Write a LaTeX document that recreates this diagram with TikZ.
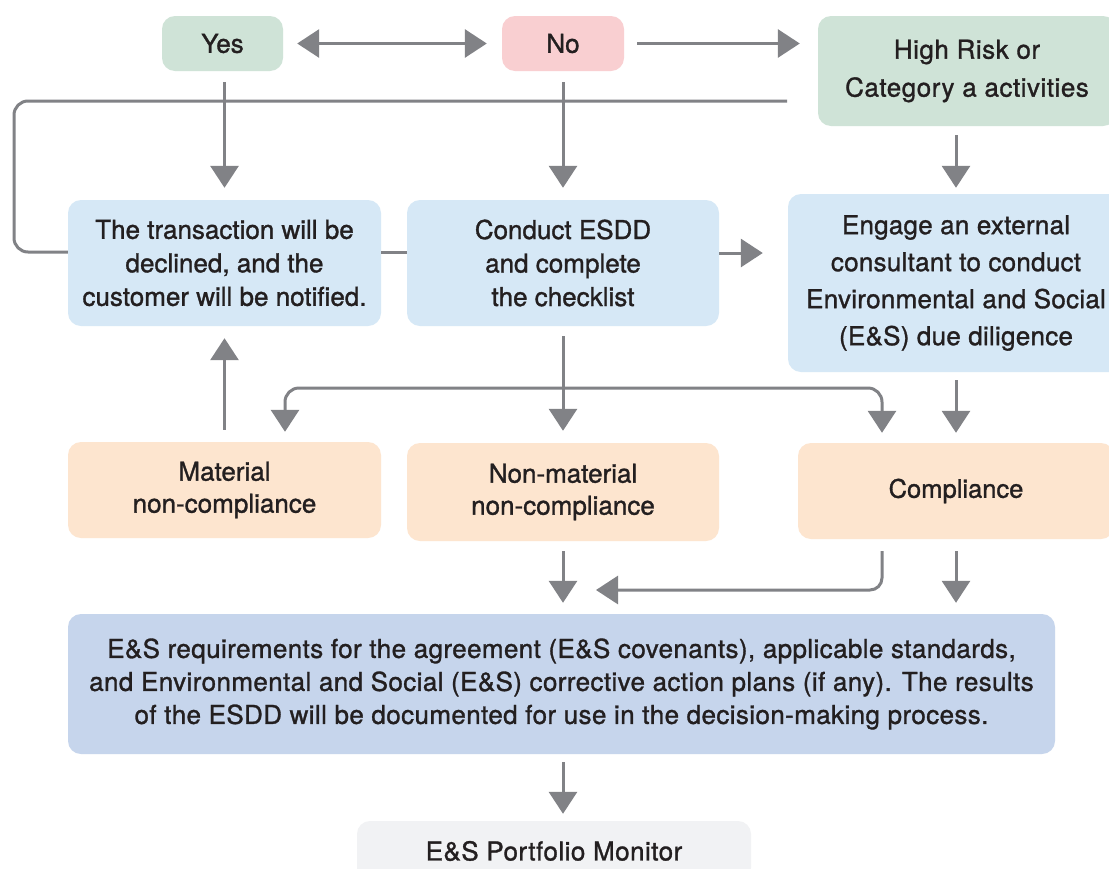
\documentclass[tikz,border=0pt]{standalone}
\usepackage{fontspec}
\setmainfont{TeX Gyre Heros}
\newfontfamily\boxfont{TeX Gyre Heros}[FakeBold=1.2]
\usetikzlibrary{arrows.meta}
\definecolor{boxgreen}{HTML}{CFE3D7}
\definecolor{boxpink}{HTML}{F9CFD1}
\definecolor{boxblue}{HTML}{D6E8F6}
\definecolor{boxorange}{HTML}{FDE5CF}
\definecolor{bigblue}{HTML}{C6D5EC}
\definecolor{portgray}{HTML}{F1F2F4}
\definecolor{arrc}{HTML}{818286}
\definecolor{txt}{HTML}{231F20}
\begin{document}
\begin{tikzpicture}[x=1pt,y=-1pt,
  box/.style={rounded corners=13pt, align=center, inner sep=0pt, text=txt,
    font=\boxfont\fontsize{26}{33.5}\selectfont},
  ln/.style={draw=arrc, line width=3pt},
  arr/.style={draw=arrc, line width=3pt, -{Triangle[width=28pt,length=22pt]}},
  darr/.style={draw=arrc, line width=3pt, {Triangle[width=28pt,length=22pt]}-{Triangle[width=28pt,length=22pt]}}
]
\useasboundingbox (0,0) rectangle (1109,868);
\fill[white] (0,0) rectangle (1109,868);

% nodes
\node[box, fill=boxgreen, minimum width=121pt, minimum height=55pt] (yes) at (222.5,43.5) {Yes};
\node[box, fill=boxpink, minimum width=122pt, minimum height=55pt] (no) at (563,43.5) {No};
\node[box, fill=boxgreen, minimum width=298pt, minimum height=110pt,
  font=\boxfont\fontsize{26}{38}\selectfont\addfontfeature{LetterSpace=2}] (high) at (967,71) {High Risk or\\Category a activities};
\node[box, fill=boxblue, minimum width=313pt, minimum height=126pt] (trans) at (224.5,263)
  {The transaction will be\\declined, and the\\customer will be notified.};
\node[box, fill=boxblue, minimum width=312pt, minimum height=126pt] (conduct) at (563,263)
  {Conduct ESDD\\and complete\\the checklist};
\node[box, fill=boxblue, minimum width=336pt, minimum height=178pt,
  font=\boxfont\fontsize{26}{37}\selectfont\addfontfeature{LetterSpace=1}] (engage) at (956,283)
  {Engage an external\\consultant to conduct\\Environmental and Social\\(E\&S) due diligence};
\node[box, fill=boxorange, minimum width=313pt, minimum height=96pt,
  font=\boxfont\fontsize{26}{32}\selectfont] (mat) at (224.5,490) {Material\\non-compliance};
\node[box, fill=boxorange, minimum width=312pt, minimum height=98pt,
  font=\boxfont\fontsize{26}{32}\selectfont] (nonmat) at (563,492) {Non-material\\non-compliance};
\node[box, fill=boxorange, minimum width=316pt, minimum height=96pt,
  font=\boxfont\fontsize{25.5}{32}\selectfont] (comp) at (956,491) {Compliance};
\node[box, fill=bigblue, minimum width=987pt, minimum height=140pt,
  font=\boxfont\fontsize{26}{33}\selectfont\addfontfeature{LetterSpace=1.5}] (big) at (561.5,684)
  {E\&S requirements for the agreement (E\&S covenants), applicable standards,\\
   and Environmental and Social (E\&S) corrective action plans (if any). The results\\
   of the ESDD will be documented for use in the decision-making process.};
\node[box, fill=portgray, minimum width=394pt, minimum height=60pt,
  font=\boxfont\fontsize{26}{32}\selectfont\addfontfeature{LetterSpace=1.8}] (port) at (554,851)
  {E\&S Portfolio Monitor};

% connectors
\draw[darr, shorten <=14pt, shorten >=15pt] (yes.east) -- (no.west);
\draw[arr, shorten <=13pt, shorten >=18pt] (no.east) -- (high.west |- no.east);
\draw[arr, shorten <=11pt, shorten >=12pt] (trans.north |- yes.south) -- (trans.north);
\draw[arr, shorten <=11pt, shorten >=12pt] (no.south) -- (conduct.north);
\draw[arr, shorten <=9pt, shorten >=6pt] (engage.north |- high.south) -- (engage.north);

\coordinate (fbs) at (787,101);
\draw[ln, rounded corners=14pt] (fbs) -- (14,101) -- (14,252) -- (trans.west |- 0,252);
\draw[ln] (trans.east |- 0,252) -- (conduct.west |- 0,252);
\draw[arr, shorten >=25pt] (conduct.east |- 0,253) -- (engage.west |- 0,253);

\draw[arr, shorten <=10pt, shorten >=12pt] (conduct.south) -- (nonmat.north);
\draw[arr, rounded corners=14pt, shorten >=10pt] (conduct.south |- 0,388) -| ([xshift=60.5pt]mat.north);
\draw[arr, rounded corners=14pt, shorten >=10pt] (conduct.south |- 0,388) -| ([xshift=-74pt]comp.north);
\draw[arr, shorten <=8pt, shorten >=10pt] (engage.south) -- (comp.north);
\draw[arr, shorten <=12pt, shorten >=12pt] (mat.north) -- (trans.south);

\draw[arr, shorten <=10pt, shorten >=11pt] (nonmat.south) -- (nonmat.south |- big.north);
\coordinate (cb) at (596,590);
\draw[arr, rounded corners=12pt, shorten <=12pt] ([xshift=-74pt]comp.south) |- (cb);
\draw[arr, shorten <=12pt, shorten >=11pt] (comp.south) -- (comp.south |- big.north);
\draw[arr, shorten <=8pt, shorten >=7pt] (big.south -| nonmat.south) -- (port.north -| nonmat.south);
\end{tikzpicture}
\end{document}
